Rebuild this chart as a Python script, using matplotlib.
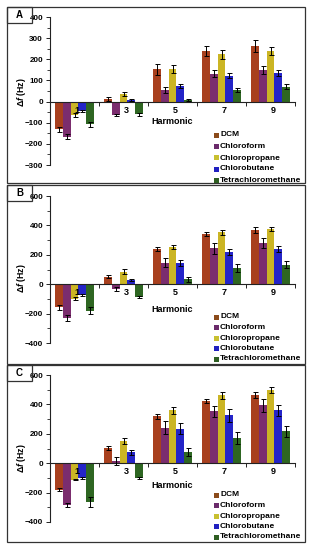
import matplotlib
matplotlib.use("Agg")
import matplotlib.pyplot as plt
import numpy as np
from matplotlib.patches import Rectangle
from matplotlib.ticker import MultipleLocator

plt.rcParams['font.family'] = ['Liberation Sans', 'DejaVu Sans']
plt.rcParams['mathtext.fontset'] = 'custom'
plt.rcParams['mathtext.rm'] = 'Liberation Sans:bold'
plt.rcParams['mathtext.it'] = 'Liberation Sans:italic:bold'
plt.rcParams['mathtext.bf'] = 'Liberation Sans:bold'

harmonics = ['1', '3', '5', '7', '9']
solvents = ['DCM', 'Chloroform', 'Chloropropane', 'Chlorobutane', 'Tetrachloromethane']
colors = ['#A8401E', '#7B2D6E', '#CBB524', '#2424C8', '#2E6622']
legend_colors = ['#8B4A1A', '#6A2A6A', '#C8C030', '#2020C0', '#2E5E22']

# Panel A values (rows: solvents, cols: harmonics)
A_vals = [[-132, 11, 153, 239, 263],
          [-167, -65, 54, 132, 148],
          [-65, 36, 153, 224, 239],
          [-46, 8, 72, 123, 134],
          [-107, -61, 6, 54, 71]]
A_err = [[12, 10, 25, 25, 30],
         [12, 5, 15, 18, 18],
         [10, 10, 20, 22, 20],
         [5, 3, 10, 12, 15],
         [12, 5, 5, 10, 10]]

B_vals = [[-158, 52, 241, 341, 368],
          [-230, -34, 147, 244, 280],
          [-99, 86, 253, 352, 377],
          [-74, 29, 147, 221, 239],
          [-180, -86, 32, 111, 133]]
B_err = [[15, 8, 15, 15, 20],
         [20, 12, 30, 38, 35],
         [10, 15, 15, 20, 15],
         [8, 8, 20, 20, 20],
         [25, 8, 18, 25, 25]]

C_vals = [[-180, 105, 320, 423, 461],
          [-284, 16, 241, 352, 393],
          [-111, 152, 359, 461, 498],
          [-102, 73, 234, 325, 359],
          [-264, -100, 75, 173, 216]]
C_err = [[8, 12, 18, 15, 20],
         [15, 25, 45, 40, 45],
         [5, 18, 25, 22, 20],
         [5, 18, 38, 42, 40],
         [35, 5, 28, 40, 40]]

W, H = 312, 550
fig = plt.figure(figsize=(W/100, H/100), dpi=100)

def fx(px): return px / W
def fy(py): return 1 - py / H

panels = [
    dict(name='A', vals=A_vals, err=A_err, ylim=(-300, 400), major=100, minor=50,
         ax_top=17, ax_bot=165, box=(7, 183), ylab_y=92, harm_y=122,
         leg_y=[135, 146.5, 158, 169, 180]),
    dict(name='B', vals=B_vals, err=B_err, ylim=(-400, 600), major=200, minor=100,
         ax_top=196, ax_bot=343, box=(185, 364), ylab_y=278, harm_y=310,
         leg_y=[317, 327.5, 338, 348.5, 359]),
    dict(name='C', vals=C_vals, err=C_err, ylim=(-400, 600), major=200, minor=100,
         ax_top=375, ax_bot=522, box=(365, 542), ylab_y=458, harm_y=485,
         leg_y=[495, 505.5, 516, 526.5, 537]),
]

ax_left, ax_right = 50, 295
bw = 0.16

for p in panels:
    ax = fig.add_axes([fx(ax_left), fy(p['ax_bot']), fx(ax_right - ax_left),
                       (p['ax_bot'] - p['ax_top']) / H])
    ax.patch.set_alpha(0)
    x = np.arange(len(harmonics))
    for i, s in enumerate(solvents):
        pos = x + 0.1 + bw * i + bw / 2
        ax.bar(pos, p['vals'][i], width=bw, color=colors[i], edgecolor='none', zorder=2)
        ax.errorbar(pos, p['vals'][i], yerr=p['err'][i], fmt='none', ecolor='black',
                    elinewidth=0.7, capsize=1.8, capthick=0.7, zorder=3)
    ax.set_xlim(0, len(harmonics))
    ax.set_ylim(*p['ylim'])
    ax.spines['right'].set_visible(False)
    ax.spines['top'].set_visible(False)
    ax.spines['bottom'].set_position(('data', 0))
    for sp in ['left', 'bottom']:
        ax.spines[sp].set_linewidth(0.8)
        ax.spines[sp].set_color('#222222')
    ax.set_xticks(np.arange(0, len(harmonics) + 1))
    ax.set_xticklabels([])
    ax.tick_params(axis='x', direction='out', length=3, width=0.7, color='#222222')
    ax.yaxis.set_major_locator(MultipleLocator(p['major']))
    ax.yaxis.set_minor_locator(MultipleLocator(p['minor']))
    ax.tick_params(axis='y', which='major', direction='out', length=3, width=0.7,
                   labelsize=5.8, pad=2, color='#222222')
    ax.tick_params(axis='y', which='minor', direction='out', length=2, width=0.6,
                   color='#222222')
    for lab in ax.get_yticklabels():
        lab.set_fontweight('bold')
    for i, h in enumerate(harmonics):
        ax.annotate(h, xy=(i + 0.55, 0), xytext=(0, -3), textcoords='offset points',
                    ha='center', va='top', fontsize=6.5, fontweight='bold', zorder=4)
    # panel frame
    y0, y1 = p['box']
    fig.patches.append(Rectangle((fx(7), fy(y1)), fx(305 - 7), (y1 - y0) / H,
                                 transform=fig.transFigure, fill=False,
                                 edgecolor='#333333', linewidth=0.9))
    fig.patches.append(Rectangle((fx(7), fy(y0 + 16)), fx(25), 16 / H,
                                 transform=fig.transFigure, fill=False,
                                 edgecolor='#333333', linewidth=0.9))
    fig.text(fx(19.5), fy(y0 + 8), p['name'], ha='center', va='center',
             fontsize=7, fontweight='bold')
    fig.text(fx(22), fy(p['ylab_y']), r'$\Delta\mathit{f}$ (Hz)',
             rotation=90, ha='center', va='center', fontsize=6.3, fontweight='bold')
    fig.text(fx(172), fy(p['harm_y']), 'Harmonic', ha='center', va='center',
             fontsize=6.5, fontweight='bold')
    for i, s in enumerate(solvents):
        yy = p['leg_y'][i]
        fig.patches.append(Rectangle((fx(214), fy(yy + 2.5)), fx(5), 5 / H,
                                     transform=fig.transFigure,
                                     facecolor=legend_colors[i], edgecolor='none'))
        fig.text(fx(220), fy(yy), s, ha='left', va='center', fontsize=6.0,
                 fontweight='bold')

fig.savefig('out.png', dpi=100)
